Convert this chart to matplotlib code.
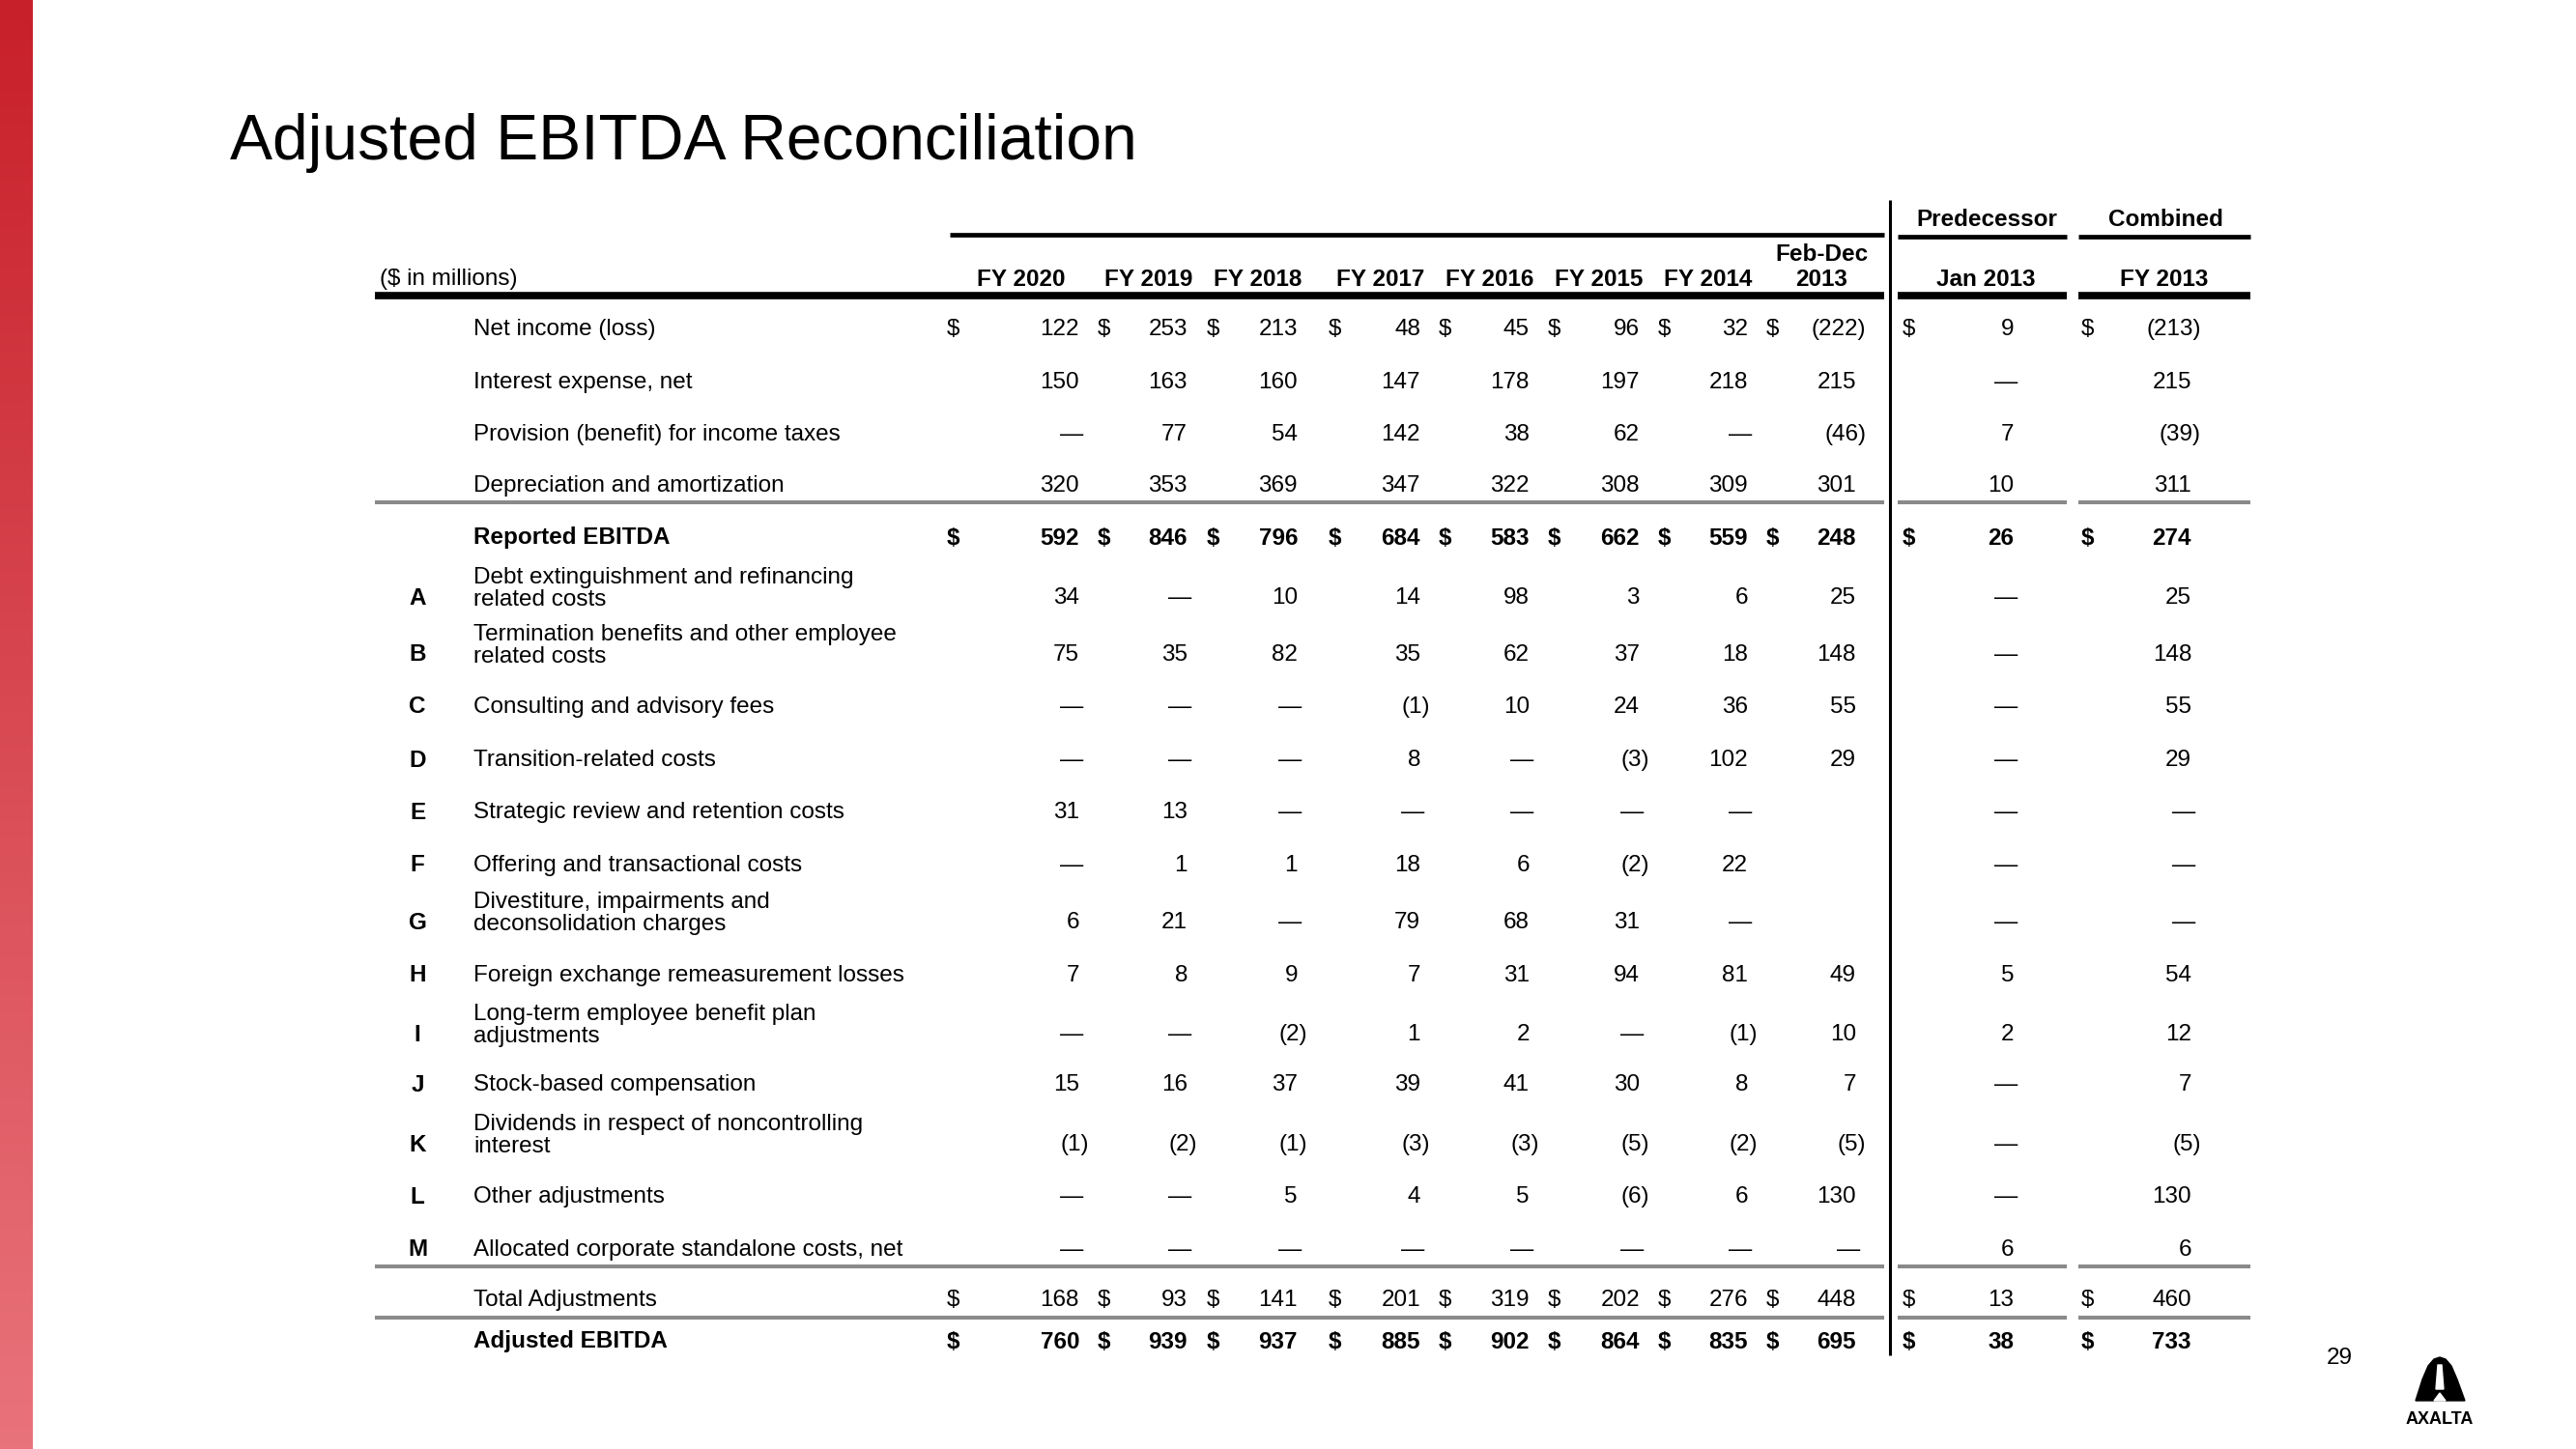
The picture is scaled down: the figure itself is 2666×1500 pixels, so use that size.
import numpy as np
import matplotlib
matplotlib.use("Agg")
import matplotlib.pyplot as plt
from matplotlib.patches import Polygon

# ---- data ----
columns = ["FY 2020", "FY 2019", "FY 2018", "FY 2017", "FY 2016", "FY 2015",
           "FY 2014", "Feb-Dec\n2013", "Jan 2013", "FY 2013"]
group_headers = ["Predecessor", "Combined"]

letters = ["", "", "", "", "", "A", "B", "C", "D", "E", "F", "G", "H", "I",
           "J", "K", "L", "M", "", ""]
labels = [
    "Net income (loss)",
    "Interest expense, net",
    "Provision (benefit) for income taxes",
    "Depreciation and amortization",
    "Reported EBITDA",
    "Debt extinguishment and refinancing\nrelated costs",
    "Termination benefits and other employee\nrelated costs",
    "Consulting and advisory fees",
    "Transition-related costs",
    "Strategic review and retention costs",
    "Offering and transactional costs",
    "Divestiture, impairments and\ndeconsolidation charges",
    "Foreign exchange remeasurement losses",
    "Long-term employee benefit plan\nadjustments",
    "Stock-based compensation",
    "Dividends in respect of noncontrolling\ninterest",
    "Other adjustments",
    "Allocated corporate standalone costs, net",
    "Total Adjustments",
    "Adjusted EBITDA",
]

D = None  # shown as a dash
net_income   = [122, 253, 213, 48, 45, 96, 32, -222, 9, -213]
interest     = [150, 163, 160, 147, 178, 197, 218, 215, D, 215]
provision    = [D, 77, 54, 142, 38, 62, D, -46, 7, -39]
dep_amort    = [320, 353, 369, 347, 322, 308, 309, 301, 10, 311]
reported     = [592, 846, 796, 684, 583, 662, 559, 248, 26, 274]
adj_a        = [34, D, 10, 14, 98, 3, 6, 25, D, 25]
adj_b        = [75, 35, 82, 35, 62, 37, 18, 148, D, 148]
adj_c        = [D, D, D, -1, 10, 24, 36, 55, D, 55]
adj_d        = [D, D, D, 8, D, -3, 102, 29, D, 29]
adj_e        = [31, 13, D, D, D, D, D, "", D, D]
adj_f        = [D, 1, 1, 18, 6, -2, 22, "", D, D]
adj_g        = [6, 21, D, 79, 68, 31, D, "", D, D]
adj_h        = [7, 8, 9, 7, 31, 94, 81, 49, 5, 54]
adj_i        = [D, D, -2, 1, 2, D, -1, 10, 2, 12]
adj_j        = [15, 16, 37, 39, 41, 30, 8, 7, D, 7]
adj_k        = [-1, -2, -1, -3, -3, -5, -2, -5, D, -5]
adj_l        = [D, D, 5, 4, 5, -6, 6, 130, D, 130]
adj_m        = [D, D, D, D, D, D, D, D, 6, 6]
total_adj    = [168, 93, 141, 201, 319, 202, 276, 448, 13, 460]
adjusted     = [760, 939, 937, 885, 902, 864, 835, 695, 38, 733]

rows = [net_income, interest, provision, dep_amort, reported, adj_a, adj_b,
        adj_c, adj_d, adj_e, adj_f, adj_g, adj_h, adj_i, adj_j, adj_k, adj_l,
        adj_m, total_adj, adjusted]
dollar_rows = [0, 4, 18, 19]
bold_rows = [4, 19]

# ---- layout (pixels) ----
W, H = 2666, 1500
DY = 3
row_y = [338, 393, 447, 500, 554, 616, 675, 729, 784, 838, 893, 952, 1007,
         1068, 1120, 1182, 1236, 1291, 1343, 1386]
col_right = [1117, 1229, 1343, 1470, 1583, 1697, 1809, 1921, 2084, 2268]
col_dollar = [986, 1142, 1255, 1381, 1495, 1608, 1722, 1834, 1975, 2160]
col_head = [1057, 1189, 1302, 1429, 1542, 1655, 1768, 1885, 2055, 2240]
group_x = [2056, 2241]

FS = 17.5
plt.rcParams["font.family"] = ["Liberation Sans", "DejaVu Sans"]

fig = plt.figure(figsize=(W / 100, H / 100), dpi=100)
ax = fig.add_axes([0, 0, 1, 1])
ax.set_xlim(0, W)
ax.set_ylim(H, 0)
ax.axis("off")

# red strip on the left
grad = np.linspace(0, 1, 256).reshape(-1, 1)
strip = matplotlib.colors.LinearSegmentedColormap.from_list("strip", ["#c8202a", "#e9737b"])
ax.imshow(grad, cmap=strip, extent=[0, 34, H, 0], aspect="auto")

ax.text(238, 165, "Adjusted EBITDA Reconciliation", fontsize=47.5,
        family=["Liberation Sans Narrow", "Liberation Sans"], va="baseline", ha="left")

# header
ax.text(393, 286 + DY, "($ in millions)", fontsize=FS, va="center", ha="left")
for x, c in zip(col_head, columns):
    if "\n" in c:
        top, bot = c.split("\n")
        ax.text(x, 260 + DY, top, fontsize=FS, fontweight="bold", va="center", ha="center")
        ax.text(x, 286 + DY, bot, fontsize=FS, fontweight="bold", va="center", ha="center")
    else:
        ax.text(x, 286 + DY, c, fontsize=FS, fontweight="bold", va="center", ha="center")
for x, g in zip(group_x, group_headers):
    ax.text(x, 224 + DY, g, fontsize=FS, fontweight="bold", va="center", ha="center")

# rules
segs = [(388, 1950), (1964, 2139), (2151, 2329)]
ax.plot([983, 1950], [243, 243], color="black", lw=3.4, solid_capstyle="butt")
ax.plot([1964, 2139], [245, 245], color="black", lw=3.4, solid_capstyle="butt")
ax.plot([2151, 2329], [245, 245], color="black", lw=3.4, solid_capstyle="butt")
for a, b in segs:
    ax.plot([a, b], [306, 306], color="black", lw=5.5, solid_capstyle="butt")
    for yy in (520, 1311, 1364):
        ax.plot([a, b], [yy, yy], color="#8a8a8a", lw=2.9, solid_capstyle="butt")
ax.plot([1956, 1956], [207, 1403], color="black", lw=2.2, solid_capstyle="butt")


def fmt(v):
    if v is None:
        return "\u2014", 4
    if v == "":
        return "", 0
    if v < 0:
        return "(%d)" % abs(v), 10
    return "%d" % v, 0


for i, (vals, y) in enumerate(zip(rows, row_y)):
    y = y + DY
    wt = "bold" if i in bold_rows else "normal"
    lab = labels[i]
    if "\n" in lab:
        ax.text(490, y + 8, lab, fontsize=FS, fontweight=wt, va="baseline", ha="left",
                linespacing=1.08)
    else:
        ax.text(490, y, lab, fontsize=FS, fontweight=wt, va="center", ha="left")
    if letters[i]:
        ax.text(432, y, letters[i], fontsize=FS, fontweight="bold", va="center", ha="center")
    for j, v in enumerate(vals):
        s, off = fmt(v)
        ax.text(col_right[j] + off, y, s, fontsize=FS, fontweight=wt, va="center", ha="right")
        if i in dollar_rows:
            ax.text(col_dollar[j], y, "$", fontsize=FS, fontweight=wt, va="center", ha="center")

# page number and logo
ax.text(2421, 1406, "29", fontsize=FS, va="center", ha="center")
arch = [(2500, 1450), (2507, 1428), (2513, 1414), (2519, 1407), (2525, 1405),
        (2531, 1407), (2537, 1414), (2543, 1428), (2551, 1450)]
ax.add_patch(Polygon(arch, closed=True, color="black"))
ax.add_patch(Polygon([(2523, 1413), (2527, 1413), (2529, 1438), (2521, 1438)],
                     closed=True, color="white"))
ax.add_patch(Polygon([(2519, 1450), (2525, 1442), (2531, 1450)], closed=True, color="white"))
ax.text(2525, 1469, "AXALTA", fontsize=13, fontweight="bold", va="center", ha="center")

fig.savefig("out.png", dpi=100)
